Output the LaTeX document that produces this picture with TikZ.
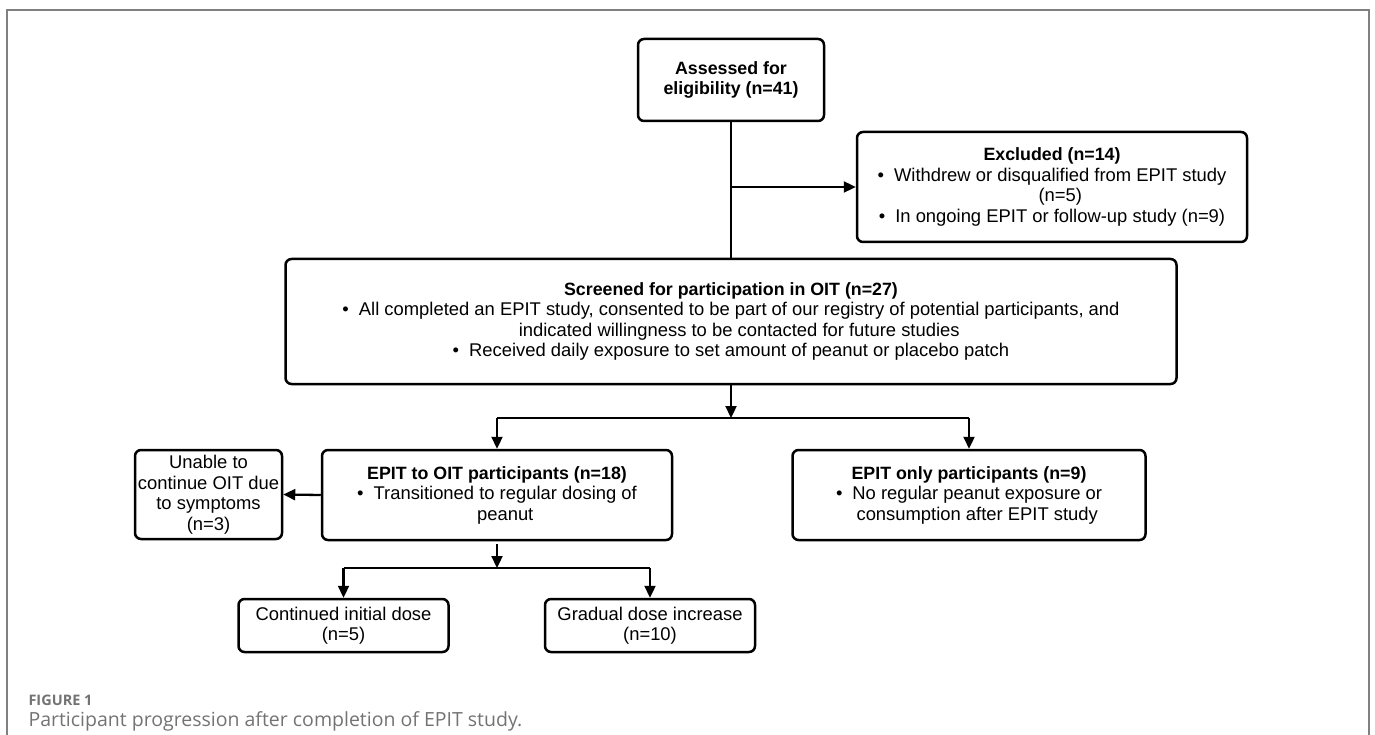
\documentclass[tikz,border=0pt]{standalone}
\usepackage{fontspec}
\setmainfont{Liberation Sans}
\newfontfamily\capfont{Open Sans}
\usetikzlibrary{arrows.meta}

% bullet and its blank twin for wrapped lines
\newcommand{\bul}{\textbullet\hspace{10pt}}
\newcommand{\bulsp}{\phantom{\textbullet\hspace{10pt}}}
% bold box heading
\newcommand{\hd}[1]{{\fontsize{17.8}{20.5}\selectfont\bfseries #1}}

\begin{document}
\begin{tikzpicture}[x=1pt, y=-1pt,
    box/.style={draw=black, line width=2.5pt, rounded corners=6pt, align=center,
      inner sep=0pt, font=\fontsize{18.4}{20.5}\selectfont},
    arr/.style={line width=2.3pt, -{Triangle[length=12pt, width=11pt]}},
    link/.style={line width=2.3pt}]
  \useasboundingbox (0,0) rectangle (1375,735);
  % frame
  \draw[black!50, line width=1.3pt] (7,735) -- (7,10) -- (1369,10) -- (1369,735);
  % top boxes
  \node[box, minimum width=186pt, minimum height=82pt] (assess) at (731,80)
    {\hd{Assessed for}\\\hd{eligibility (n=41)}};
  \node[box, minimum width=390pt, minimum height=110pt] (excl) at (1052,187)
    {\hd{Excluded (n=14)}\\
     \bul Withdrew or disqualified from EPIT study\\
     \bulsp(n=5)\\
     \bul In ongoing EPIT or follow-up study (n=9)};
  \node[box, minimum width=891pt, minimum height=125pt] (screen) at (731,321.5)
    {\hd{Screened for participation in OIT (n=27)}\\
     \bul All completed an EPIT study, consented to be part of our registry of potential participants, and\\
     \bulsp indicated willingness to be contacted for future studies\\
     \bul Received daily exposure to set amount of peanut or placebo patch};
  % middle boxes
  \node[box, minimum width=350pt, minimum height=90pt] (oit) at (497,495)
    {\hd{EPIT to OIT participants (n=18)}\\
     \bul Transitioned to regular dosing of\\
     \bulsp peanut};
  \node[box, minimum width=147pt, minimum height=89pt] (unable) at (208.5,494.5)
    {Unable to\\continue OIT due\\to symptoms\\(n=3)};
  \node[box, minimum width=353pt, minimum height=90pt] (only) at (969,495)
    {\hd{EPIT only participants (n=9)}\\
     \bul No regular peanut exposure or\\
     \bulsp consumption after EPIT study};
  % bottom boxes
  \node[box, minimum width=210pt, minimum height=53pt] (cont) at (343.5,625.5)
    {Continued initial dose\\(n=5)};
  \node[box, minimum width=210pt, minimum height=53pt] (grad) at (650,625.5)
    {Gradual dose increase\\(n=10)};
  % split points
  \coordinate (branch) at (assess.south |- excl.west);
  \coordinate (split1) at (731,418);
  \coordinate (split2) at (497,568);
  % connectors
  \draw[link] (assess.south) -- (screen.north);
  \draw[arr] (branch) -- (excl.west);
  \draw[arr] (screen.south) -- (split1);
  \draw[link] (oit.north |- split1) -- (only.north |- split1);
  \draw[arr] (oit.north |- split1) -- (oit.north);
  \draw[arr] (only.north |- split1) -- (only.north);
  \draw[arr] (oit.west) -- (unable.east);
  \draw[arr, shorten <=3pt] (oit.south) -- (split2);
  \draw[link] (cont.north |- split2) -- (grad.north |- split2);
  \draw[arr] (cont.north |- split2) -- (cont.north);
  \draw[arr] (grad.north |- split2) -- (grad.north);
  % caption
  \node[anchor=base west, text=black!55, font=\capfont\bfseries\fontsize{14.5}{16}\selectfont]
    (fig) at (25,705) {FIGURE 1};
  \node[anchor=base west, text=black!55, font=\capfont\fontsize{19.5}{22}\selectfont]
    (cap) at (25,726) {Participant progression after completion of EPIT study.};
\end{tikzpicture}
\end{document}
